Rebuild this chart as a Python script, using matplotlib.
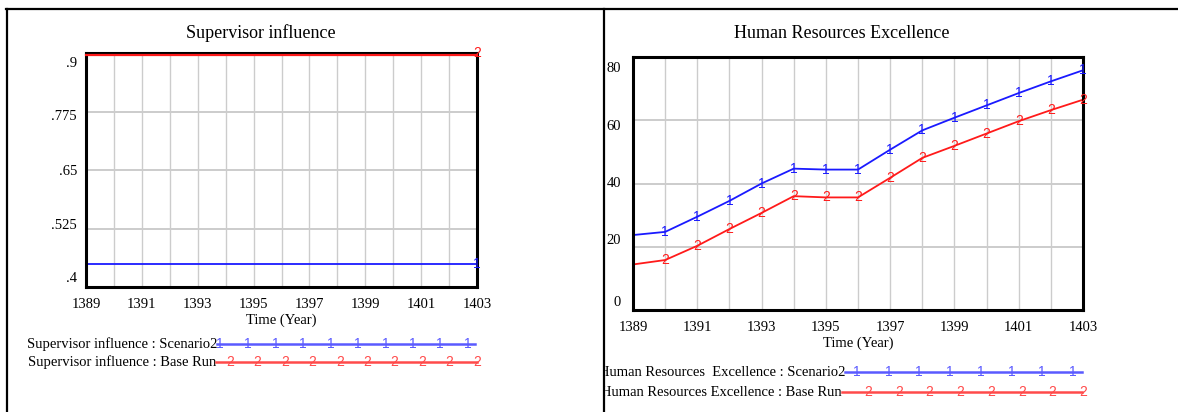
import matplotlib
matplotlib.use("Agg")
import matplotlib.pyplot as plt
from matplotlib.lines import Line2D
from matplotlib.patches import Rectangle
from matplotlib.transforms import ScaledTranslation

# ---------------- data ----------------
years = list(range(1389, 1404))
sup_scenario2 = [0.45] * 15
sup_base = [0.9] * 15

hre_scenario2 = [23.7, 24.7, 29.5, 34.5, 40.0, 44.7, 44.4, 44.4, 50.7, 56.8,
                 60.8, 64.7, 68.6, 72.3, 75.8]
hre_base = [14.4, 15.8, 20.3, 25.6, 30.7, 36.0, 35.6, 35.6, 41.8, 48.1,
            51.9, 55.8, 59.7, 63.2, 66.5]

xtick_years = [1389, 1391, 1393, 1395, 1397, 1399, 1401, 1403]
sup_yticks = [0.9, 0.775, 0.65, 0.525, 0.4]
sup_ylabels = [".9", ".775", ".65", ".525", ".4"]
hre_yticks = [80, 60, 40, 20, 0]
hre_ylabels = ["80", "60", "40", "20", "0"]

left_title = "Supervisor influence"
right_title = "Human Resources Excellence"
xlabel = "Time (Year)"
left_legend = ["Supervisor influence : Scenario2", "Supervisor influence : Base Run"]
right_legend = ["Human Resources  Excellence : Scenario2", "Human Resources Excellence : Base Run"]

# ---------------- styling ----------------
W, H = 1178, 412
SERIF = "Liberation Serif"
SANS = "Liberation Sans"
BLUE = "#1a1aff"
RED = "#ff1a1a"
LBLUE = "#5a5aff"
LRED = "#ff4a4a"
GRID = "#cccccc"
TICK_FS = 10.5
LEG_FS = 10.5
TITLE_FS = 13
MARK_FS = 10

fig = plt.figure(figsize=(W / 100, H / 100), dpi=100)
fig.patch.set_facecolor("white")


def fx(x):
    return x / W


def fy(y):
    return 1 - y / H


def make_axes(x0, y0, x1, y1):
    return fig.add_axes([fx(x0), fy(y1), fx(x1) - fx(x0), fy(y0) - fy(y1)])


def style_axes(ax, ylo, yhi, grid_y, yticks, ylabels, ylabel_offsets, ylab_pad):
    ax.set_xlim(1389, 1403)
    ax.set_ylim(ylo, yhi)
    for yr in years[1:-1]:
        ax.axvline(yr, color=GRID, lw=1.0, zorder=1)
    for gy in grid_y:
        ax.axhline(gy, color=GRID, lw=1.4, zorder=1)
    for s in ax.spines.values():
        s.set_linewidth(2.2)
        s.set_color("black")
        s.set_zorder(5)
    ax.set_xticks(xtick_years)
    ax.set_xticklabels([str(y) for y in xtick_years], fontfamily=SERIF, fontsize=TICK_FS)
    ax.tick_params(axis="x", length=0, pad=8)
    ax.set_yticks([])
    for val, lab, dy in zip(yticks, ylabels, ylabel_offsets):
        t = ax.text(0, val, lab, transform=ax.get_yaxis_transform(), ha="right",
                    va="center", fontfamily=SERIF, fontsize=TICK_FS)
        t.set_transform(ax.get_yaxis_transform() +
                        ScaledTranslation(-ylab_pad / 100, -dy / 100, fig.dpi_scale_trans))
    ax.set_xlabel(xlabel, fontfamily=SERIF, fontsize=TICK_FS, labelpad=2)


def digit_markers(ax, xs, ys, ch, color, size=MARK_FS):
    for x, y in zip(xs, ys):
        ax.text(x, y, ch, ha="center", va="center", color=color, fontsize=size,
                fontfamily=SANS, zorder=7, clip_on=False)


# ---------------- left chart ----------------
axL = make_axes(86, 53, 477, 287)
style_axes(axL, 0.4, 0.9, [0.775, 0.65, 0.525], sup_yticks, sup_ylabels,
           [10, 5, 1, -3, -8], 9)
axL.plot(years, sup_scenario2, color=BLUE, lw=1.3, zorder=4, clip_on=False)
axL.plot(years, sup_base, color=RED, lw=1.6, zorder=6, clip_on=False,
         transform=axL.transData + ScaledTranslation(0, -1.6 / 100, fig.dpi_scale_trans))
digit_markers(axL, [years[-1]], [sup_scenario2[-1]], "1", BLUE)
digit_markers(axL, [years[-1]], [sup_base[-1]], "2", RED)
fig.text(fx(261), fy(33), left_title, ha="center", va="center",
         fontfamily=SERIF, fontsize=TITLE_FS)

# ---------------- right chart ----------------
axR = make_axes(633, 57, 1083, 310)
style_axes(axR, 0, 80, [20, 40, 60], hre_yticks, hre_ylabels,
           [11, 6, 0, -6, -8], 12)
axR.plot(years, hre_scenario2, color=BLUE, lw=1.3, zorder=4, clip_on=False)
axR.plot(years, hre_base, color=RED, lw=1.3, zorder=4, clip_on=False)
digit_markers(axR, years[1:], hre_scenario2[1:], "1", BLUE)
digit_markers(axR, years[1:], hre_base[1:], "2", RED)
fig.text(fx(842), fy(34), right_title, ha="center", va="center",
         fontfamily=SERIF, fontsize=TITLE_FS)


# ---------------- legends ----------------
def legend_row(text, x_text_end, y, x_line_end, color, ch, marks):
    fig.text(fx(x_text_end), fy(y), text, ha="right", va="center",
             fontfamily=SERIF, fontsize=LEG_FS, zorder=2)
    fig.add_artist(Line2D([fx(x_text_end), fx(x_line_end)], [fy(y), fy(y)],
                          color=color, lw=1.8, transform=fig.transFigure, zorder=3))
    for mx in marks:
        fig.text(fx(mx), fy(y), ch, ha="center", va="center", color=color,
                 fontsize=MARK_FS, fontfamily=SANS, zorder=4)


legend_row(left_legend[0], 217, 344, 475, LBLUE, "1",
           [220, 248, 276, 303, 331, 358, 386, 413, 440, 468])
legend_row(left_legend[1], 216, 362, 477, LRED, "2",
           [230, 257, 285, 312, 340, 367, 394, 422, 449, 477])
legend_row(right_legend[0], 845, 372, 1082, LBLUE, "1",
           [857, 889, 919, 950, 981, 1012, 1042, 1073])
legend_row(right_legend[1], 842, 392, 1082, LRED, "2",
           [868, 899, 929, 960, 991, 1022, 1052, 1083])

# clip legend text at the panel divider
fig.add_artist(Rectangle((fx(482), 0), fx(604) - fx(482), fy(330), color="white",
                         transform=fig.transFigure, zorder=5))

# ---------------- table borders ----------------
for line in [([fx(6), 1], [fy(9), fy(9)]),
             ([fx(7), fx(7)], [fy(9), 0]),
             ([fx(604), fx(604)], [fy(9), 0])]:
    fig.add_artist(Line2D(line[0], line[1], color="black", lw=1.6,
                          transform=fig.transFigure, zorder=10))

fig.savefig("out.png", dpi=100, facecolor="white")
